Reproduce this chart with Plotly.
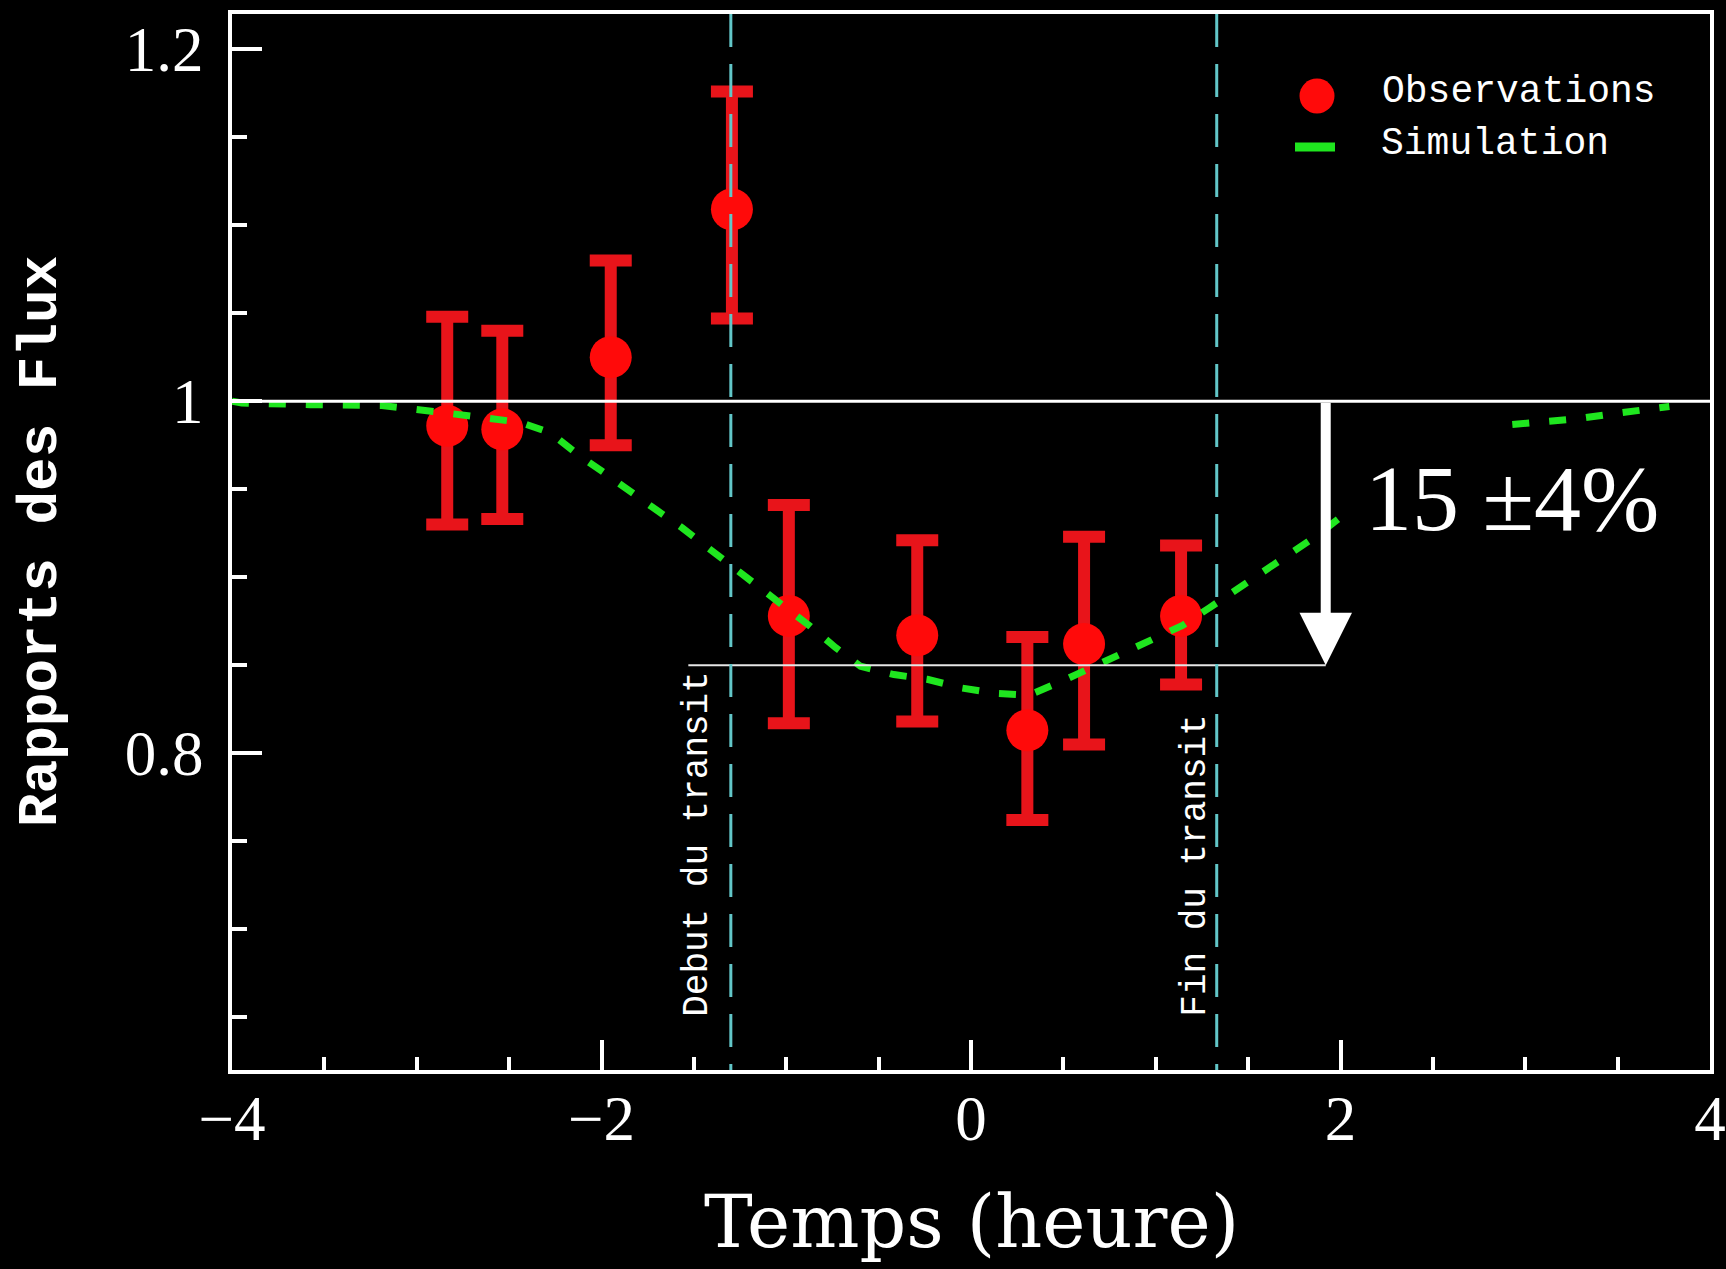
import plotly.graph_objects as go

# Observed flux ratios (hours from mid-transit) with asymmetric 1-sigma errors
obs_time = [-2.835, -2.537, -1.950, -1.294, -0.986, -0.291, 0.305, 0.612, 1.137]
obs_flux = [0.986, 0.984, 1.025, 1.109, 0.878, 0.867, 0.813, 0.862, 0.878]
obs_err_plus = [0.062, 0.056, 0.055, 0.067, 0.063, 0.054, 0.053, 0.061, 0.040]
obs_err_minus = [0.056, 0.051, 0.050, 0.062, 0.061, 0.049, 0.051, 0.057, 0.039]

# Simulated light curve; the None leaves the stretch behind the depth label undrawn
sim_time = [-4.0, -3.947, -3.577, -3.189, -2.818, -2.439, -2.276, -2.132, -1.988,
            -1.852, -1.707, -1.563, -1.418, -1.283, -1.014, -0.869, -0.733, -0.598,
            -0.417, -0.237, -0.047, 0.134, 0.314, 0.486, 0.649, 0.811, 0.983,
            1.145, 1.290, 1.443, 1.588, 1.733, 1.868, 1.989, None,
            2.93, 3.10, 3.28, 3.45, 3.62, 3.78]
sim_flux = [1.000, 0.999, 0.998, 0.9976, 0.993, 0.988, 0.982, 0.970, 0.9595,
            0.949, 0.9385, 0.928, 0.916, 0.9055, 0.8836, 0.872, 0.860, 0.8494,
            0.8447, 0.842, 0.837, 0.834, 0.833, 0.8406, 0.8485, 0.856, 0.8646,
            0.8726, 0.8826, 0.8932, 0.9034, 0.9142, 0.9233, 0.9332, None,
            0.9868, 0.988, 0.990, 0.9925, 0.995, 0.997]

# Transit contacts (hours) and measured depth
transit_start = -1.30
transit_end = 1.33
depth_pct = 15
depth_err_pct = 4
depth_level = 1 - depth_pct / 100

x_ticks = [-4, -2, 0, 2, 4]
y_ticks = [0.8, 1.0, 1.2]
y_tick_text = ["0.8", "1", "1.2"]

# Page geometry (pixels) used to place paper-referenced decorations
W, H = 1726, 1269
L, R, T, B = 232, 16, 14, 199
PW, PH = W - L - R, H - T - B


def px_x(px):
    return (px - L) / PW


def px_y(py):
    return 1 - (py - T) / PH


RED = "#ff0a0a"
BAR_RED = "#e8141a"
GREEN = "#1fe61f"
CYAN = "#62c6c8"

fig = go.Figure()

fig.add_trace(go.Scatter(
    x=obs_time, y=obs_flux, mode="markers", name="Observations",
    marker=dict(color=RED, size=42, line=dict(width=0)),
    error_y=dict(type="data", symmetric=False, array=obs_err_plus,
                 arrayminus=obs_err_minus, color=BAR_RED, thickness=12, width=21),
    showlegend=False,
))

fig.add_trace(go.Scatter(
    x=sim_time, y=sim_flux, mode="lines", name="Simulation",
    line=dict(color=GREEN, width=7, dash="17px,20px"),
    connectgaps=False, showlegend=False,
))

shapes = [
    # reference level (no transit)
    dict(type="line", xref="x", yref="y", x0=-4, x1=4, y0=1.0, y1=1.0,
         line=dict(color="white", width=3), layer="above"),
    # in-transit level
    dict(type="line", xref="x", yref="y", x0=-1.53, x1=1.92,
         y0=depth_level, y1=depth_level,
         line=dict(color="#e6e6e6", width=2), layer="above"),
    # transit contacts
    dict(type="line", xref="x", yref="paper", x0=transit_start, x1=transit_start,
         y0=1, y1=0, line=dict(color=CYAN, width=3, dash="33px,17px"), layer="above"),
    dict(type="line", xref="x", yref="paper", x0=transit_end, x1=transit_end,
         y0=1, y1=0, line=dict(color=CYAN, width=3, dash="33px,17px"), layer="above"),
    # legend keys
    dict(type="circle", xref="paper", yref="paper", xsizemode="pixel", ysizemode="pixel",
         xanchor=px_x(1317), yanchor=px_y(96), x0=-17.5, x1=17.5, y0=-17.5, y1=17.5,
         fillcolor=RED, line=dict(width=0), layer="above"),
    dict(type="line", xref="paper", yref="paper", x0=px_x(1295), x1=px_x(1335),
         y0=px_y(147), y1=px_y(147), line=dict(color=GREEN, width=9), layer="above"),
]

mono = "Liberation Mono"
annotations = [
    dict(text="Rapports des Flux", xref="paper", yref="paper", x=px_x(41), y=0.5,
         textangle=-90, showarrow=False, xanchor="center", yanchor="middle",
         font=dict(family=mono, size=56, color="white", weight="bold")),
    dict(text="Temps (heure)", xref="paper", yref="paper", x=0.5, y=px_y(1265),
         showarrow=False, xanchor="center", yanchor="bottom", borderpad=0,
         font=dict(family="DejaVu Serif", size=73, color="white")),
    dict(text="Debut du transit", xref="x", yref="paper", x=transit_start, xshift=-34,
         y=px_y(1019), textangle=-90, showarrow=False, xanchor="center", yanchor="bottom",
         font=dict(family=mono, size=36, color="white")),
    dict(text="Fin du transit", xref="x", yref="paper", x=transit_end, xshift=-22,
         y=px_y(1019), textangle=-90, showarrow=False, xanchor="center", yanchor="bottom",
         font=dict(family=mono, size=36, color="white")),
    dict(text=f"{depth_pct} \u00b1{depth_err_pct}%", xref="x", yref="y", x=2.93, y=0.945,
         showarrow=False, xanchor="center", yanchor="middle",
         font=dict(family="Liberation Serif", size=94, color="white")),
    dict(text="", xref="x", yref="y", x=1.92, y=depth_level, ax=1.92, ay=1.0,
         axref="x", ayref="y", showarrow=True, arrowhead=2, arrowsize=1.05,
         arrowwidth=10, arrowcolor="white", standoff=0),
    dict(text="Observations", xref="paper", yref="paper", x=px_x(1380), y=px_y(92),
         showarrow=False, xanchor="left", yanchor="middle",
         font=dict(family=mono, size=38, color="white")),
    dict(text="Simulation", xref="paper", yref="paper", x=px_x(1379), y=px_y(144),
         showarrow=False, xanchor="left", yanchor="middle",
         font=dict(family=mono, size=38, color="white")),
]

axis_common = dict(
    showgrid=False, zeroline=False, showline=True, linecolor="white", linewidth=4,
    mirror=True, ticks="inside", ticklen=30, tickwidth=4, tickcolor="white",
    automargin=False,
    tickfont=dict(family="Liberation Serif", size=63, color="white"),
)

fig.update_layout(
    width=W, height=H, autosize=False,
    margin=dict(l=L, r=R, t=T, b=B),
    paper_bgcolor="black", plot_bgcolor="black",
    font=dict(family="Liberation Serif", color="white"),
    xaxis=dict(range=[-4, 4], tickvals=x_ticks, ticklabelstandoff=-10,
               minor=dict(ticks="inside", ticklen=13, tickwidth=4, tickcolor="white",
                          dtick=0.5, tick0=0, showgrid=False),
               **axis_common),
    yaxis=dict(range=[0.62, 1.22], tickvals=y_ticks, ticktext=y_tick_text,
               ticklabelstandoff=12,
               minor=dict(ticks="inside", ticklen=15, tickwidth=4, tickcolor="white",
                          dtick=0.05, tick0=0, showgrid=False),
               **axis_common),
    shapes=shapes,
    annotations=annotations,
    showlegend=False,
)

fig.write_html("out.html")
